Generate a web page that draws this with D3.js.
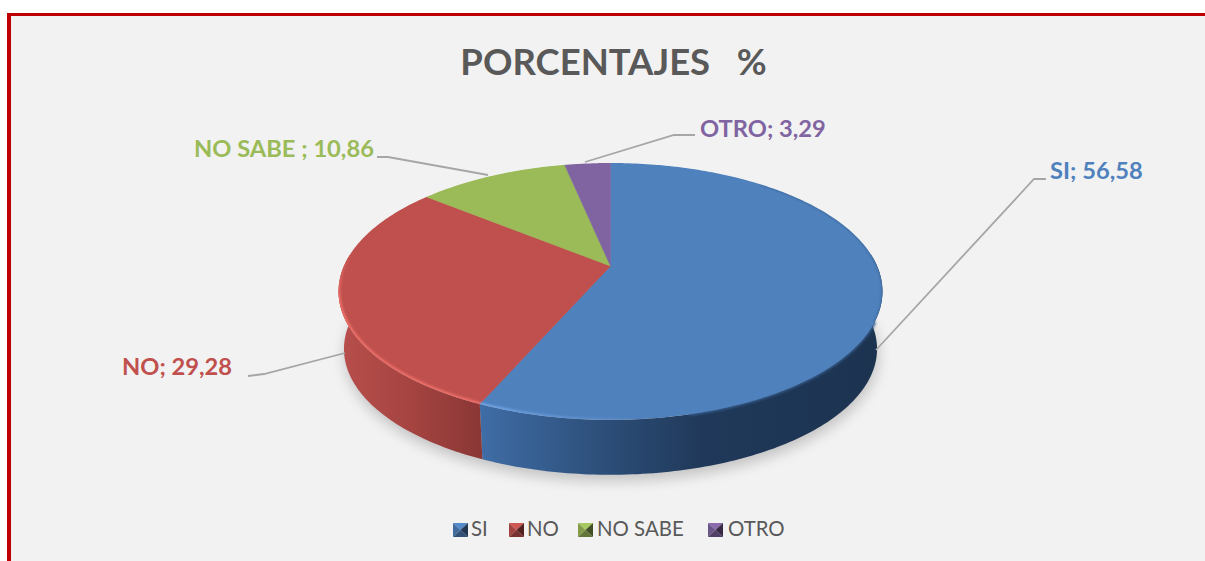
<!DOCTYPE html>
<html><head><meta charset="utf-8">
<style>html,body{margin:0;padding:0;background:#fff;overflow:hidden}svg{display:block}text{font-family:Lato,"Open Sans",sans-serif}</style>
<script src="https://cdn.jsdelivr.net/npm/d3@7"></script></head><body>
<script>
const categories = ["SI","NO","NO SABE","OTRO"];
const values = [56.58,29.28,10.86,3.29];
const labels = ["SI; 56,58","NO; 29,28","NO SABE ; 10,86","OTRO; 3,29"];
const colors = ["#4f81bd","#c0504d","#9bbb59","#8064a2"];
const wallStops = [
  [["0","#3f6da6"],["0.3","#2d4f7a"],["0.55","#20395a"],["1","#1c3350"]],
  [["0","#b84f4c"],["0.5","#a54441"],["1","#8a3735"]],
  [["0","#7d9a45"],["1","#6d883a"]],
  [["0","#67508a"],["1","#584478"]]
];
const W=1205,H=561;
const svg=d3.select("body").append("svg").attr("width",W).attr("height",H);
const defs=svg.append("defs");
const blur=(id,s)=>defs.append("filter").attr("id",id).attr("filterUnits","userSpaceOnUse").attr("x",0).attr("y",0).attr("width",W).attr("height",H).append("feGaussianBlur").attr("stdDeviation",s);
blur("b2",2.2);blur("b1",1.3);blur("b8",7);

svg.append("rect").attr("x",0).attr("y",0).attr("width",W).attr("height",H).attr("fill","#fff");
svg.append("rect").attr("x",7).attr("y",13).attr("width",W).attr("height",H).attr("fill","#c00000");
svg.append("rect").attr("x",11).attr("y",16).attr("width",W).attr("height",H).attr("fill","#f2f2f2");

svg.append("text").attr("x",613.5).attr("y",75).attr("text-anchor","middle")
  .attr("font-size",36.5).attr("font-weight",700).attr("fill","#595959").style("white-space","pre").text("PORCENTAJES   %");

// perspective disc
const apex=[610.5,266],k=0.198,A=123.4,B=266.6,depth=58,bs=0.98;
const proj=(t,cx=apex[0],cy=apex[1],sc=1)=>{const s=Math.sin(t),c=Math.cos(t),d=1+k*c;return [cx+sc*B*s/d,cy-sc*A*c/d];};
const pie=d3.pie().sort(null).value(d=>d)(values);
const samples=(a0,a1)=>{const n=Math.max(2,Math.ceil((a1-a0)*60));return d3.range(n+1).map(i=>a0+(a1-a0)*i/n);};
const line=d3.line();
const bottom=t=>proj(t,apex[0],apex[1]+depth,bs);

// cast shadow
svg.append("path").attr("d",line(samples(0,2*Math.PI).map(t=>{const p=bottom(t);return [p[0]+1,p[1]+6];}))+"Z")
  .attr("fill","#000").attr("opacity",0.2).attr("filter","url(#b8)");

// walls
pie.forEach((d,i)=>{
  const a0=d.startAngle,a1=d.endAngle;
  const lo=Math.max(a0,Math.PI/2-0.1),hi=Math.min(a1,3*Math.PI/2+0.1);
  if(hi<=lo) return;
  const top=samples(lo,hi).map(t=>proj(t)),bot=samples(lo,hi).map(bottom).reverse();
  const xs=top.concat(bot).map(p=>p[0]);
  const g=defs.append("linearGradient").attr("id","w"+i).attr("gradientUnits","userSpaceOnUse")
    .attr("x1",d3.min(xs)).attr("x2",d3.max(xs)).attr("y1",0).attr("y2",0);
  wallStops[i].forEach(s=>g.append("stop").attr("offset",s[0]).attr("stop-color",s[1]));
  svg.append("path").attr("d",line(top.concat(bot))+"Z").attr("fill",`url(#w${i})`);
});

// top face
const faceD=line(samples(0,2*Math.PI).map(t=>proj(t)))+"Z";
defs.append("clipPath").attr("id","face").append("path").attr("d",faceD);
// soft transition between the face and the wall
svg.append("path").attr("d",line(samples(2.0,2.9).map(t=>proj(t)))).attr("fill","none").attr("stroke","#355a88").attr("stroke-width",3).attr("filter","url(#b1)");
const faces=svg.append("g").attr("clip-path","url(#face)");
pie.forEach((d,i)=>{
  faces.append("path").attr("d",line([apex].concat(samples(d.startAngle,d.endAngle).map(t=>proj(t))))+"Z")
    .attr("fill",colors[i]).attr("stroke",colors[i]).attr("stroke-width",0.6);
});
// bevel: highlight on the lower-left rim
const rim=(a0,a1)=>line(samples(a0,a1).map(t=>proj(t)));
const hlBlue=defs.append("linearGradient").attr("id","hl0").attr("gradientUnits","userSpaceOnUse").attr("x1",483).attr("x2",640).attr("y1",0).attr("y2",0);
hlBlue.append("stop").attr("offset",0).attr("stop-color","#74a8ea");
hlBlue.append("stop").attr("offset",1).attr("stop-color","#74a8ea").attr("stop-opacity",0);
faces.append("path").attr("d",rim(2.85,pie[0].endAngle)).attr("fill","none").attr("stroke","url(#hl0)").attr("stroke-width",3.5).attr("filter","url(#b1)");
const hlRed=defs.append("linearGradient").attr("id","hl1").attr("gradientUnits","userSpaceOnUse").attr("x1",0).attr("x2",0).attr("y1",250).attr("y2",300);
hlRed.append("stop").attr("offset",0).attr("stop-color","#ee6f6a").attr("stop-opacity",0);
hlRed.append("stop").attr("offset",1).attr("stop-color","#ee6f6a");
faces.append("path").attr("d",rim(pie[1].startAngle,pie[1].endAngle)).attr("fill","none").attr("stroke","url(#hl1)").attr("stroke-width",4).attr("filter","url(#b1)");
// bevel: faint dark rim on the right
faces.append("path").attr("d",rim(0.7,2.0)).attr("fill","none").attr("stroke","#1c3350").attr("stroke-width",1.5).attr("opacity",.35).attr("filter","url(#b1)");

// leader lines
const leaders=[[[876,350],[1034,179],[1046,179]],[[345,353],[264,374],[248,376]],[[488,175],[388,157],[377,157]],[[585,162],[674,135],[695,135]]];
leaders.forEach(l=>svg.append("path").attr("d",line(l)).attr("fill","none").attr("stroke","#a6a6a6").attr("stroke-width",1.8));

// data labels
const labelPos=[[1050,179],[122,375],[194,157],[700,137]];
labels.forEach((t,i)=>svg.append("text").attr("x",labelPos[i][0]).attr("y",labelPos[i][1]).attr("font-size",23.7).attr("font-weight",700).attr("fill",colors[i]).text(t));

// legend
const legX=[453,509,578,708],textX=[471,527,597,728];
categories.forEach((c,i)=>{
  const x=legX[i],y=523,w=15,h=14;
  const base=d3.color(colors[i]);
  const tri=(pts,f)=>svg.append("path").attr("d",line(pts)+"Z").attr("fill",f);
  const m=[x+w/2,y+h/2];
  tri([[x,y],[x+w,y],m],base.brighter(0.2));
  tri([[x,y],[x,y+h],m],base.darker(0.5));
  tri([[x+w,y],[x+w,y+h],m],base.darker(2.4));
  tri([[x,y+h],[x+w,y+h],m],base.darker(1.3));
  svg.append("text").attr("x",textX[i]).attr("y",536).attr("font-size",20.4).attr("fill","#595959").text(c);
});
</script></body></html>
